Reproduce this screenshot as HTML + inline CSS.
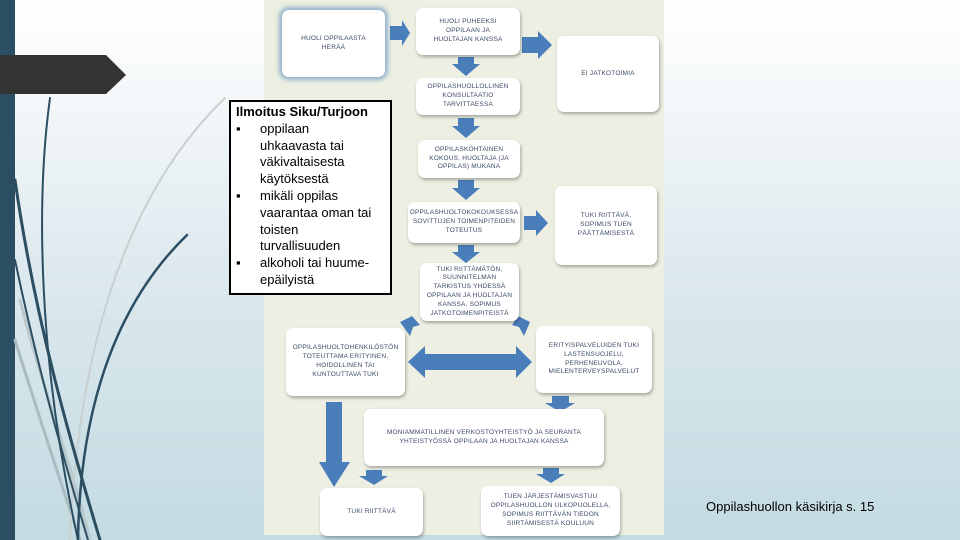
<!DOCTYPE html>
<html><head><meta charset="utf-8"><style>
html,body{margin:0;padding:0}
body{width:960px;height:540px;overflow:hidden;position:relative;background:linear-gradient(#ffffff 0%,#f6f9fa 15%,#dde9ee 50%,#c3dbe2 100%);font-family:"Liberation Sans",sans-serif}
.bx{position:absolute;background:#fff;border-radius:7px;box-shadow:1px 2px 3px rgba(0,0,0,.3);display:flex;align-items:center;justify-content:center;text-align:center;font-size:6.5px;color:#3b4a66;line-height:1.35;letter-spacing:.2px}
.tb div{white-space:nowrap}
</style></head><body>
<svg width="960" height="540" style="position:absolute;left:0;top:0">
<rect x="0" y="0" width="15" height="540" fill="#2c4e62"/>
<g fill="none" stroke-linecap="round">
<path d="M20 300 C40 380 70 460 90 540" stroke="#b8c8cc" stroke-width="3"/>
<path d="M15 340 C40 420 60 480 80 540" stroke="#a9bcc2" stroke-width="3"/>
<path d="M225 98 C150 170 80 300 70 540" stroke="#c8d0d0" stroke-width="2"/>
<path d="M50 98 C36 200 38 360 78 540" stroke="#2c4e62" stroke-width="2"/>
<path d="M15 180 C35 320 70 440 100 540" stroke="#2c4e62" stroke-width="3"/>
<path d="M187 235 C120 300 80 400 78 540" stroke="#2c4e62" stroke-width="2.5"/>
<path d="M15 260 C40 380 70 480 88 540" stroke="#2c4e62" stroke-width="2"/>
</g>
<polygon points="0,55 106,55 126,75 106,94 0,94" fill="#333"/>
<rect x="264" y="0" width="400" height="535" fill="#ecefe2"/>
<g fill="#4a7ebb">
<polygon points="390,26 402,26 402,20 410,33 402,46 402,40 390,40"/>
<polygon points="522,37 538,37 538,31 552,45 538,59 538,53 522,53"/>
<polygon points="458,57 474,57 474,64 480,64 466,76 452,64 458,64"/>
<polygon points="458,118 474,118 474,126 480,126 466,138 452,126 458,126"/>
<polygon points="458,180 474,180 474,188 480,188 466,200 452,188 458,188"/>
<polygon points="524,216 536,216 536,210 548,223 536,236 536,230 524,230"/>
<polygon points="458,245 474,245 474,252 480,252 466,263 452,252 458,252"/>
<polygon points="400,322 412,316 420,325 413,327 410,336"/>
<polygon points="518,316 530,322 524,336 519,327 512,325"/>
<polygon points="408,362 425,346 425,354 516,354 516,346 532,362 516,378 516,370 425,370 425,378"/>
<polygon points="552,396 569,396 569,403 575,403 560,412 545,403 552,403"/>
<polygon points="326,402 342,402 342,462 350,462 334,487 319,462 326,462"/>
<polygon points="366,470 382,470 382,476 388,476 374,485 359,476 366,476"/>
<polygon points="543,468 559,468 559,474 565,474 551,483 536,474 543,474"/>
</g>
</svg>
<div class="bx" style="left:282px;top:10px;width:103px;height:67px;box-shadow:0 0 4px 3px rgba(90,140,190,.6)">HUOLI OPPILAASTA<br>HERÄÄ</div>
<div class="bx" style="left:416px;top:8px;width:104px;height:47px">HUOLI PUHEEKSI<br>OPPILAAN JA<br>HUOLTAJAN KANSSA</div>
<div class="bx" style="left:557px;top:36px;width:102px;height:76px">EI JATKOTOIMIA</div>
<div class="bx" style="left:416px;top:78px;width:104px;height:37px">OPPILASHUOLLOLLINEN<br>KONSULTAATIO<br>TARVITTAESSA</div>
<div class="bx" style="left:418px;top:140px;width:102px;height:38px">OPPILASKOHTAINEN<br>KOKOUS, HUOLTAJA (JA<br>OPPILAS) MUKANA</div>
<div class="bx" style="left:408px;top:202px;width:112px;height:41px">OPPILASHUOLTOKOKOUKSESSA<br>SOVITTUJEN TOIMENPITEIDEN<br>TOTEUTUS</div>
<div class="bx" style="left:555px;top:186px;width:102px;height:79px">TUKI RIITTÄVÄ,<br>SOPIMUS TUEN<br>PÄÄTTÄMISESTÄ</div>
<div class="bx" style="left:420px;top:263px;width:99px;height:58px">TUKI RIITTÄMÄTÖN,<br>SUUNNITELMAN<br>TARKISTUS YHDESSÄ<br>OPPILAAN JA HUOLTAJAN<br>KANSSA. SOPIMUS<br>JATKOTOIMENPITEISTÄ</div>
<div class="bx" style="left:286px;top:328px;width:119px;height:68px">OPPILASHUOLTOHENKILÖSTÖN<br>TOTEUTTAMA ERITYINEN,<br>HOIDOLLINEN TAI<br>KUNTOUTTAVA TUKI</div>
<div class="bx" style="left:536px;top:326px;width:116px;height:67px">ERITYISPALVELUIDEN TUKI<br>LASTENSUOJELU,<br>PERHENEUVOLA,<br>MIELENTERVEYSPALVELUT</div>
<div class="bx" style="left:364px;top:409px;width:240px;height:57px">MONIAMMATILLINEN VERKOSTOYHTEISTYÖ JA SEURANTA<br>YHTEISTYÖSSÄ OPPILAAN JA HUOLTAJAN KANSSA</div>
<div class="bx" style="left:320px;top:488px;width:103px;height:48px">TUKI RIITTÄVÄ</div>
<div class="bx" style="left:481px;top:486px;width:139px;height:50px">TUEN JÄRJESTÄMISVASTUU<br>OPPILASHUOLLON ULKOPUOLELLA,<br>SOPIMUS RIITTÄVÄN TIEDON<br>SIIRTÄMISESTÄ KOULUUN</div>
<div class="tb" style="position:absolute;left:229px;top:100px;width:154px;height:189px;background:#fff;border:2px solid #000;font-size:13px;line-height:16.8px;color:#000;padding:2px 0 0 5px">
<div style="font-weight:bold">Ilmoitus Siku/Turjoon</div>
<div><span style="display:inline-block;width:24px">▪</span>oppilaan</div>
<div style="padding-left:24px">uhkaavasta tai</div>
<div style="padding-left:24px">väkivaltaisesta</div>
<div style="padding-left:24px">käytöksestä</div>
<div><span style="display:inline-block;width:24px">▪</span>mikäli oppilas</div>
<div style="padding-left:24px">vaarantaa oman tai</div>
<div style="padding-left:24px">toisten</div>
<div style="padding-left:24px">turvallisuuden</div>
<div><span style="display:inline-block;width:24px">▪</span>alkoholi tai huume-</div>
<div style="padding-left:24px">epäilyistä</div>
</div>
<div style="position:absolute;left:706px;top:499px;font-size:13px;color:#000">Oppilashuollon käsikirja s. 15</div>
</body></html>
